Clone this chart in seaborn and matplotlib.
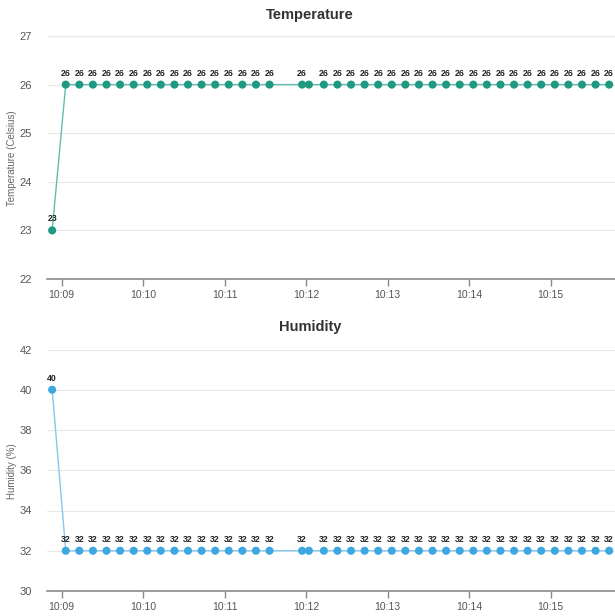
import matplotlib
matplotlib.use("Agg")
import matplotlib.pyplot as plt
import matplotlib.dates as mdates
import seaborn as sns
import pandas as pd

sns.set_style("white")
plt.rcParams['font.family'] = ['Liberation Sans', 'DejaVu Sans']

times = [
    "10:08:53",
    "10:09:03", "10:09:13", "10:09:23", "10:09:33", "10:09:43", "10:09:53",
    "10:10:03", "10:10:13", "10:10:23", "10:10:33", "10:10:43", "10:10:53",
    "10:11:03", "10:11:13", "10:11:23", "10:11:33",
    "10:11:57", "10:12:02",
    "10:12:13", "10:12:23", "10:12:33", "10:12:43", "10:12:53",
    "10:13:03", "10:13:13", "10:13:23", "10:13:33", "10:13:43", "10:13:53",
    "10:14:03", "10:14:13", "10:14:23", "10:14:33", "10:14:43", "10:14:53",
    "10:15:03", "10:15:13", "10:15:23", "10:15:33", "10:15:43",
]
temperature = [23] + [26] * 40
humidity = [40] + [32] * 40
hidden_label_index = [18]
x_ticks = ["10:09", "10:10", "10:11", "10:12", "10:13", "10:14", "10:15"]

day = "2020-01-01 "
df = pd.DataFrame({
    "time": pd.to_datetime([day + t for t in times]),
    "temperature": temperature,
    "humidity": humidity,
})

fig = plt.figure(figsize=(6.15, 6.16), dpi=100)
ax1 = fig.add_axes([47 / 615, 1 - 279 / 616, 1 - 47 / 615, (279 - 36) / 616])
ax2 = fig.add_axes([47 / 615, 1 - 591 / 616, 1 - 47 / 615, (591 - 349.5) / 616])

xmin = pd.Timestamp(day + "10:08:49.2")
xmax = pd.Timestamp(day + "10:15:47.3")

specs = [
    (ax1, "temperature", "#1f9a80", "#62bdb1", (22, 27), [22, 23, 24, 25, 26, 27],
     "Temperature", "Temperature (Celsius)", 15, 158),
    (ax2, "humidity", "#3ea7e0", "#86c8ec", (30, 42), [30, 32, 34, 36, 38, 40, 42],
     "Humidity", "Humidity (%)", 327, 471),
]

for ax, col, dot_c, line_c, ylim, yticks, title, ylabel, ty, ly in specs:
    sns.lineplot(data=df, x="time", y=col, ax=ax, color=line_c, linewidth=1.0,
                 zorder=2, legend=False)
    sns.scatterplot(data=df, x="time", y=col, ax=ax, color=dot_c, s=34,
                    edgecolor="none", zorder=3, legend=False)
    for i, (t, v) in enumerate(zip(df["time"], df[col])):
        if i in hidden_label_index:
            continue
        ax.annotate(str(v), (t, v), xytext=(0, 5), textcoords="offset points",
                    ha="center", va="bottom", fontsize=6.3, fontweight="bold",
                    color="#222222", clip_on=False, annotation_clip=False)
    ax.set_ylim(*ylim)
    ax.set_yticks(yticks)
    ax.set_xlim(xmin, xmax)
    ax.set_xticks([pd.Timestamp(day + t) for t in x_ticks])
    ax.xaxis.set_major_formatter(mdates.DateFormatter("%H:%M"))
    ax.set_xlabel("")
    ax.set_ylabel("")
    ax.grid(axis="y", color="#e8e8e8", linewidth=0.8)
    ax.grid(axis="x", visible=False)
    for s in ["top", "right", "left"]:
        ax.spines[s].set_visible(False)
    ax.spines["bottom"].set_color("#8a8a8a")
    ax.spines["bottom"].set_linewidth(1.2)
    ax.tick_params(axis="x", length=5, width=1, color="#8a8a8a", labelsize=7.5,
                   labelcolor="#555555", pad=3, bottom=True)
    ax.tick_params(axis="y", length=0, labelsize=8, labelcolor="#555555", pad=11)
    fig.text(310 / 615, 1 - ty / 616, title, ha="center", va="center",
             fontsize=10.5, fontweight="bold", color="#333333")
    fig.text(12 / 615, 1 - ly / 616, ylabel, ha="center", va="center",
             rotation=90, fontsize=7, color="#666666")

fig.savefig("out.png", dpi=100)
